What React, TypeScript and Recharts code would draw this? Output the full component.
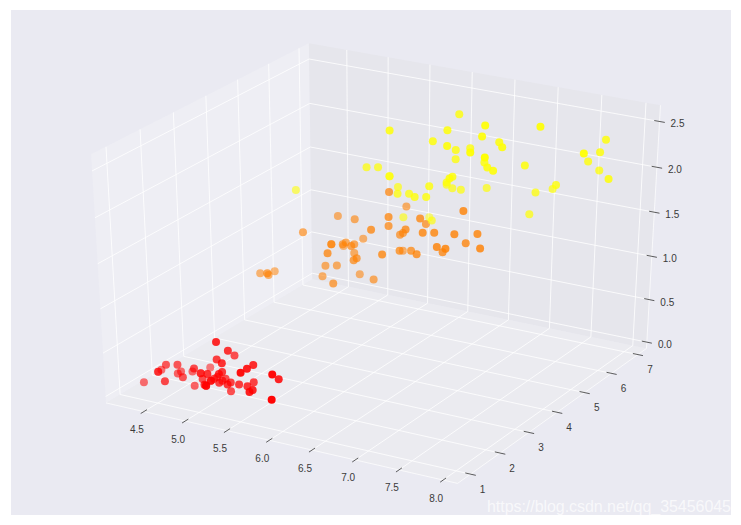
import React from "react";
import { ScatterChart, Scatter, XAxis, YAxis, Customized } from "recharts";

// Iris measurements: sepal length (x), petal length (y), petal width (z)
const setosaX = [5.1,4.9,4.7,4.6,5.0,5.4,4.6,5.0,4.4,4.9,5.4,4.8,4.8,4.3,5.8,5.7,5.4,5.1,5.7,5.1,5.4,5.1,4.6,5.1,4.8,5.0,5.0,5.2,5.2,4.7,4.8,5.4,5.2,5.5,4.9,5.0,5.5,4.9,4.4,5.1,5.0,4.5,4.4,5.0,5.1,4.8,5.1,4.6,5.3,5.0];
const setosaY = [1.4,1.4,1.3,1.5,1.4,1.7,1.4,1.5,1.4,1.5,1.5,1.6,1.4,1.1,1.2,1.5,1.3,1.4,1.7,1.5,1.7,1.5,1.0,1.7,1.9,1.6,1.6,1.5,1.4,1.6,1.6,1.5,1.5,1.4,1.5,1.2,1.3,1.5,1.3,1.5,1.3,1.3,1.3,1.6,1.9,1.4,1.6,1.4,1.5,1.4];
const setosaZ = [.2,.2,.2,.2,.2,.4,.3,.2,.2,.1,.2,.2,.1,.1,.2,.4,.4,.3,.3,.3,.2,.4,.2,.5,.2,.2,.4,.2,.2,.2,.2,.4,.1,.2,.1,.2,.2,.1,.2,.2,.3,.3,.2,.6,.4,.3,.2,.2,.2,.2];
const versiX = [7.0,6.4,6.9,5.5,6.5,5.7,6.3,4.9,6.6,5.2,5.0,5.9,6.0,6.1,5.6,6.7,5.6,5.8,6.2,5.6,5.9,6.1,6.3,6.1,6.4,6.6,6.8,6.7,6.0,5.7,5.5,5.5,5.8,6.0,5.4,6.0,6.7,6.3,5.6,5.5,5.5,6.1,5.8,5.0,5.6,5.7,5.7,6.2,5.1,5.7];
const versiY = [4.7,4.5,4.9,4.0,4.6,4.5,4.7,3.3,4.6,3.9,3.5,4.2,4.0,4.7,3.6,4.4,4.5,4.1,4.5,3.9,4.8,4.0,4.9,4.7,4.3,4.4,4.8,5.0,4.5,3.5,3.8,3.7,3.9,5.1,4.5,4.5,4.7,4.4,4.1,4.0,4.4,4.6,4.0,3.3,4.2,4.2,4.2,4.3,3.0,4.1];
const versiZ = [1.4,1.5,1.5,1.3,1.5,1.3,1.6,1.0,1.3,1.4,1.0,1.5,1.0,1.4,1.3,1.4,1.5,1.0,1.5,1.1,1.8,1.3,1.5,1.2,1.3,1.4,1.4,1.7,1.5,1.0,1.1,1.0,1.2,1.6,1.5,1.6,1.5,1.3,1.3,1.3,1.2,1.4,1.2,1.0,1.3,1.2,1.3,1.3,1.1,1.3];
const virgiX = [6.3,5.8,7.1,6.3,6.5,7.6,4.9,7.3,6.7,7.2,6.5,6.4,6.8,5.7,5.8,6.4,6.5,7.7,7.7,6.0,6.9,5.6,7.7,6.3,6.7,7.2,6.2,6.1,6.4,7.2,7.4,7.9,6.4,6.3,6.1,7.7,6.3,6.4,6.0,6.9,6.7,6.9,5.8,6.8,6.7,6.7,6.3,6.5,6.2,5.9];
const virgiY = [6.0,5.1,5.9,5.6,5.8,6.6,4.5,6.3,5.8,6.1,5.1,5.3,5.5,5.0,5.1,5.3,5.5,6.7,6.9,5.0,5.7,4.9,6.7,4.9,5.7,6.0,4.8,4.9,5.6,5.8,6.1,6.4,5.6,5.1,5.6,6.1,5.6,5.5,4.8,5.4,5.6,5.1,5.1,5.9,5.7,5.2,5.0,5.2,5.4,5.1];
const virgiZ = [2.5,1.9,2.1,1.8,2.2,2.1,1.7,1.8,1.8,2.5,2.0,1.9,2.1,2.0,2.4,2.3,1.8,2.2,2.3,1.5,2.3,2.0,2.0,1.8,2.1,1.8,1.8,1.8,2.1,1.6,1.9,2.0,2.2,1.5,1.4,2.3,2.4,1.8,1.8,2.1,2.4,2.3,1.9,2.3,2.5,2.3,1.9,2.0,2.3,1.8];

const xTicks = [4.5, 5.0, 5.5, 6.0, 6.5, 7.0, 7.5, 8.0];
const yTicks = [1, 2, 3, 4, 5, 6, 7];
const zTicks = [0.0, 0.5, 1.0, 1.5, 2.0, 2.5];
const xLim = [4.12, 8.08];
const yLim = [0.705, 7.195];
const zLim = [-0.02, 2.62];

const W = 741, H = 525;
const PAD = 1 / 48;
const u = [0.8660254, 0.5, 0];
const v = [-0.25, 0.4330127, 0.8660254];
const n = [0.4330127, -0.75, 0.5];
const DIST = 10;
const SX = 389.6, CX = 380.6, SY = 272.4, CY = 255.5;

const dot = (a: number[], b: number[]) => a[0] * b[0] + a[1] * b[1] + a[2] * b[2];
const toUnit = (x: number, y: number, z: number) => [
  (x - xLim[0]) / (xLim[1] - xLim[0]) - 0.5,
  (y - yLim[0]) / (yLim[1] - yLim[0]) - 0.5,
  (z - zLim[0]) / (zLim[1] - zLim[0]) - 0.5,
];
// q is in unit-cube coordinates centred on 0
const projQ = (q: number[]) => {
  const d = DIST - dot(n, q);
  return { sx: CX + (SX * DIST * dot(u, q)) / d, sy: CY - (SY * DIST * dot(v, q)) / d, depth: d };
};
const E = 0.5 + PAD;

const build = (xs: number[], ys: number[], zs: number[], lowA: number, highA: number) => {
  const pts = xs.map((x, i) => projQ(toUnit(x, ys[i], zs[i])));
  const ds = pts.map((p) => p.depth);
  const lo = Math.min(...ds), hi = Math.max(...ds);
  return pts
    .map((p) => ({ ...p, alpha: highA - ((p.depth - lo) / (hi - lo)) * (highA - lowA) }))
    .sort((a, b) => b.depth - a.depth);
};
const series = [
  { name: "setosa", color: "#ff0000", data: build(setosaX, setosaY, setosaZ, 0.5, 0.98) },
  { name: "versicolor", color: "#ff8000", data: build(versiX, versiY, versiZ, 0.5, 0.82) },
  { name: "virginica", color: "#ffff00", data: build(virgiX, virgiY, virgiZ, 0.5, 0.98) },
];

const poly = (pts: number[][]) =>
  pts.map((q) => { const p = projQ(q); return `${p.sx},${p.sy}`; }).join(" ");

const ux = (x: number) => toUnit(x, 1, 1)[0];
const uy = (y: number) => toUnit(1, y, 1)[1];
const uz = (z: number) => toUnit(1, 1, z)[2];
const TICK = 0.015;

const Frame = () => {
  const grid: number[][][] = [];
  xTicks.forEach((t) => grid.push([[ux(t), -E, -E], [ux(t), E, -E], [ux(t), E, E]]));
  yTicks.forEach((t) => grid.push([[E, uy(t), -E], [-E, uy(t), -E], [-E, uy(t), E]]));
  zTicks.forEach((t) => grid.push([[-E, -E, uz(t)], [-E, E, uz(t)], [E, E, uz(t)]]));
  const axes = [
    [[-E, -E, -E], [E, -E, -E], [E, E, -E], [E, E, E]],
  ];
  const tickStyle = { stroke: "#333333", strokeWidth: 0.8 };
  const textStyle = { fontFamily: "'Liberation Sans', Arial, sans-serif", fontSize: 10, fill: "#3a3a3a" };
  return (
    <g>
      <rect x={11} y={10} width={720} height={505} fill="#EAEAF2" />
      <polygon points={poly([[-E, -E, -E], [-E, E, -E], [-E, E, E], [-E, -E, E]])} fill="#EEEEF4" />
      <polygon points={poly([[-E, E, -E], [E, E, -E], [E, E, E], [-E, E, E]])} fill="#E6E6EC" />
      <polygon points={poly([[-E, -E, -E], [E, -E, -E], [E, E, -E], [-E, E, -E]])} fill="#EBEBF0" />
      {grid.map((g, i) => (
        <polyline key={i} points={poly(g)} fill="none" stroke="#ffffff" strokeWidth={0.8} />
      ))}
      {axes.map((g, i) => (
        <polyline key={i} points={poly(g)} fill="none" stroke="#ffffff" strokeWidth={0.7} />
      ))}
      {xTicks.map((t) => {
        const a = projQ([ux(t), -E - TICK, -E]), b = projQ([ux(t), -E + TICK, -E]);
        return (
          <g key={t}>
            <line x1={a.sx} y1={a.sy} x2={b.sx} y2={b.sy} {...tickStyle} />
            <text x={(a.sx + b.sx) / 2 - 7} y={(a.sy + b.sy) / 2 + 18} textAnchor="middle" dominantBaseline="central" {...textStyle}>{t.toFixed(1)}</text>
          </g>
        );
      })}
      {yTicks.map((t) => {
        const a = projQ([E - TICK, uy(t), -E]), b = projQ([E + TICK, uy(t), -E]);
        return (
          <g key={t}>
            <line x1={a.sx} y1={a.sy} x2={b.sx} y2={b.sy} {...tickStyle} />
            <text x={(a.sx + b.sx) / 2 + 12} y={(a.sy + b.sy) / 2 + 15} textAnchor="middle" dominantBaseline="central" {...textStyle}>{t}</text>
          </g>
        );
      })}
      {zTicks.map((t) => {
        const a = projQ([E - TICK, E, uz(t)]), b = projQ([E + TICK, E, uz(t)]);
        return (
          <g key={t}>
            <line x1={a.sx} y1={a.sy} x2={b.sx} y2={b.sy} {...tickStyle} />
            <text x={(a.sx + b.sx) / 2 + 18} y={(a.sy + b.sy) / 2 + 2.5} textAnchor="middle" dominantBaseline="central" {...textStyle}>{t.toFixed(1)}</text>
          </g>
        );
      })}
    </g>
  );
};

const Watermark = () => (
  <text x={487} y={512} fontFamily="'Liberation Sans', Arial, sans-serif" fontSize={16} fill="#ffffff" fillOpacity={0.7} textLength={244}>
    https://blog.csdn.net/qq_35456045
  </text>
);

const Dot = (props: any) => {
  const { cx, cy, payload, fill } = props;
  return <circle cx={cx} cy={cy} r={4} fill={fill} fillOpacity={payload.alpha} />;
};

export default function App() {
  return (
    <div style={{ position: "absolute", left: 0, top: 0, width: W, height: H }}>
      <ScatterChart width={W} height={H} margin={{ top: 0, right: 0, bottom: 0, left: 0 }}>
        <XAxis type="number" dataKey="sx" domain={[0, W]} hide />
        <YAxis type="number" dataKey="sy" domain={[0, H]} reversed hide />
        <Customized component={Frame} />
        {series.map((s) => (
          <Scatter key={s.name} name={s.name} data={s.data} fill={s.color} shape={Dot} isAnimationActive={false} />
        ))}
        <Customized component={Watermark} />
      </ScatterChart>
    </div>
  );
}
